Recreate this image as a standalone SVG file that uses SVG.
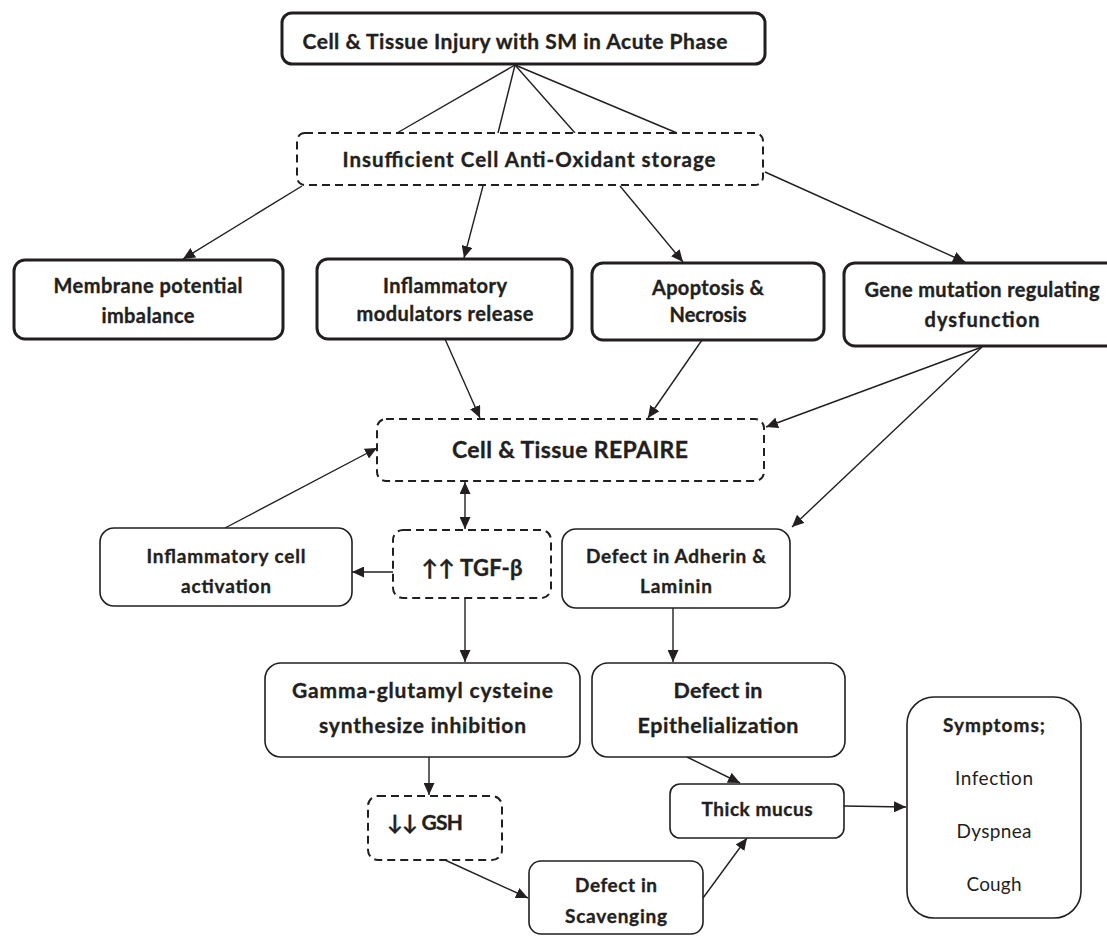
<svg xmlns="http://www.w3.org/2000/svg" width="1107" height="936" viewBox="0 0 1107 936">
<style>
.bg{fill:#ffffff}
.thick{fill:#ffffff;stroke:#231f20;stroke-width:3}
.thin{fill:#ffffff;stroke:#231f20;stroke-width:1.6}
.dash{fill:#ffffff;stroke:#231f20;stroke-width:2;stroke-dasharray:8 5}
.t{font-family:Lato,"Open Sans","Liberation Sans",sans-serif;font-weight:bold;fill:#231f20;stroke:#231f20;stroke-width:0.35;text-anchor:middle}
.r{font-family:Lato,"Open Sans","Liberation Sans",sans-serif;font-weight:normal;fill:#231f20;text-anchor:middle}
.c{fill:none;stroke:#231f20;stroke-width:1.4}
</style>
<defs>
<marker id="ah" markerWidth="12" markerHeight="11" refX="12" refY="5.5" orient="auto-start-reverse" markerUnits="userSpaceOnUse"><path d="M0,0 L12,5.5 L0,11 z" fill="#231f20"/></marker>
</defs>
<rect class="bg" x="0" y="0" width="1107" height="936"/>

<g id="connectors">
<line class="c" x1="515" y1="65" x2="397" y2="133"/>
<line class="c" x1="515" y1="65" x2="498" y2="133"/>
<line class="c" x1="515" y1="65" x2="575" y2="133"/>
<line class="c" x1="515" y1="65" x2="677" y2="133"/>
<line class="c" x1="302" y1="186" x2="183" y2="259" marker-end="url(#ah)"/>
<line class="c" x1="483" y1="186" x2="464" y2="258" marker-end="url(#ah)"/>
<line class="c" x1="620" y1="186" x2="683" y2="262" marker-end="url(#ah)"/>
<line class="c" x1="765" y1="172" x2="965" y2="262" marker-end="url(#ah)"/>
<line class="c" x1="445" y1="339" x2="480" y2="418" marker-end="url(#ah)"/>
<line class="c" x1="702" y1="340" x2="648" y2="418" marker-end="url(#ah)"/>
<line class="c" x1="982" y1="347" x2="766" y2="427" marker-end="url(#ah)"/>
<line class="c" x1="982" y1="347" x2="792" y2="527" marker-end="url(#ah)"/>
<line class="c" x1="225" y1="528" x2="377" y2="448" marker-end="url(#ah)"/>
<line class="c" x1="465" y1="482" x2="465" y2="529" marker-start="url(#ah)" marker-end="url(#ah)"/>
<line class="c" x1="393" y1="572" x2="352" y2="572" marker-end="url(#ah)"/>
<line class="c" x1="465" y1="598" x2="465" y2="662" marker-end="url(#ah)"/>
<line class="c" x1="673" y1="608" x2="673" y2="662" marker-end="url(#ah)"/>
<line class="c" x1="429" y1="757" x2="429" y2="795" marker-end="url(#ah)"/>
<line class="c" x1="687" y1="757" x2="740" y2="783" marker-end="url(#ah)"/>
<line class="c" x1="445" y1="860" x2="528" y2="898" marker-end="url(#ah)"/>
<line class="c" x1="703" y1="898" x2="747" y2="838" marker-end="url(#ah)"/>
<line class="c" x1="844" y1="806" x2="906" y2="807" marker-end="url(#ah)"/>
</g>

<g id="n-injury">
<rect class="thick" x="282" y="13" width="483" height="51" rx="10"/>
<text class="t" x="515" y="49" font-size="21" textLength="425" lengthAdjust="spacing">Cell &amp; Tissue Injury with SM in Acute Phase</text>
</g>
<g id="n-insufficient">
<rect class="dash" x="297" y="133" width="466" height="52" rx="8"/>
<text class="t" x="529" y="167" font-size="20.5" textLength="373" lengthAdjust="spacing">Insufficient Cell Anti-Oxidant storage</text>
</g>
<g id="n-membrane">
<rect class="thick" x="14" y="260" width="269" height="79" rx="11"/>
<text class="t" x="148" y="293" font-size="20" textLength="189" lengthAdjust="spacing">Membrane potential</text>
<text class="t" x="148" y="323" font-size="20" textLength="93" lengthAdjust="spacing">imbalance</text>
</g>
<g id="n-modulators">
<rect class="thick" x="317" y="259" width="255" height="80" rx="11"/>
<text class="t" x="445" y="293" font-size="20" textLength="124" lengthAdjust="spacing">Inflammatory</text>
<text class="t" x="445" y="321" font-size="20" textLength="177" lengthAdjust="spacing">modulators release</text>
</g>
<g id="n-apoptosis">
<rect class="thick" x="592" y="263" width="232" height="77" rx="11"/>
<text class="t" x="708" y="295" font-size="20" textLength="112" lengthAdjust="spacing">Apoptosis &amp;</text>
<text class="t" x="708" y="322" font-size="20" textLength="77" lengthAdjust="spacing">Necrosis</text>
</g>
<g id="n-gene">
<rect class="thick" x="844" y="263" width="276" height="83" rx="11"/>
<text class="t" x="982" y="297" font-size="20" textLength="235" lengthAdjust="spacing">Gene mutation regulating</text>
<text class="t" x="982" y="327" font-size="20" textLength="115" lengthAdjust="spacing">dysfunction</text>
</g>
<g id="n-repaire">
<rect class="dash" x="377" y="419" width="387" height="62" rx="9"/>
<text class="t" x="570" y="458" font-size="23" textLength="236" lengthAdjust="spacing">Cell &amp; Tissue REPAIRE</text>
</g>
<g id="n-inflcell">
<rect class="thin" x="100" y="528" width="252" height="78" rx="14"/>
<text class="t" x="226" y="563" font-size="19" textLength="159" lengthAdjust="spacing">Inflammatory cell</text>
<text class="t" x="226" y="593" font-size="19" textLength="90" lengthAdjust="spacing">activation</text>
</g>
<g id="n-tgf">
<rect class="dash" x="393" y="530" width="158" height="68" rx="10"/>
<text class="t" x="472" y="576" font-size="22" textLength="101" lengthAdjust="spacing">↑↑ TGF-β</text>
</g>
<g id="n-adherin">
<rect class="thin" x="562" y="529" width="228" height="79" rx="14"/>
<text class="t" x="676" y="563" font-size="19" textLength="180" lengthAdjust="spacing">Defect in Adherin &amp;</text>
<text class="t" x="676" y="593" font-size="19" textLength="72" lengthAdjust="spacing">Laminin</text>
</g>
<g id="n-gamma">
<rect class="thin" x="265" y="663" width="315" height="94" rx="16"/>
<text class="t" x="422.5" y="698" font-size="21" textLength="261" lengthAdjust="spacing">Gamma-glutamyl cysteine</text>
<text class="t" x="422.5" y="733" font-size="21" textLength="207" lengthAdjust="spacing">synthesize inhibition</text>
</g>
<g id="n-epith">
<rect class="thin" x="592" y="663" width="253" height="94" rx="16"/>
<text class="t" x="718" y="698" font-size="21.5" textLength="89" lengthAdjust="spacing">Defect in</text>
<text class="t" x="718" y="733" font-size="21.5" textLength="161" lengthAdjust="spacing">Epithelialization</text>
</g>
<g id="n-gsh">
<rect class="dash" x="368" y="796" width="134" height="64" rx="10"/>
<text class="t" x="425" y="830" font-size="21" textLength="76" lengthAdjust="spacing">↓↓ GSH</text>
</g>
<g id="n-mucus">
<rect class="thin" x="670" y="784" width="174" height="54" rx="10"/>
<text class="t" x="757" y="816" font-size="19" textLength="111" lengthAdjust="spacing">Thick mucus</text>
</g>
<g id="n-scavenging">
<rect class="thin" x="529" y="861" width="174" height="73" rx="12"/>
<text class="t" x="616" y="892" font-size="19" textLength="82" lengthAdjust="spacing">Defect in</text>
<text class="t" x="616" y="923" font-size="19" textLength="102" lengthAdjust="spacing">Scavenging</text>
</g>
<g id="n-symptoms">
<rect class="thin" x="907" y="697" width="174" height="221" rx="27"/>
<text class="t" x="994" y="732" font-size="19" textLength="102" lengthAdjust="spacing">Symptoms;</text>
<text class="r" x="994" y="785" font-size="19" textLength="78" lengthAdjust="spacing">Infection</text>
<text class="r" x="994" y="838" font-size="19" textLength="75" lengthAdjust="spacing">Dyspnea</text>
<text class="r" x="994" y="891" font-size="19" textLength="55" lengthAdjust="spacing">Cough</text>
</g>
</svg>
